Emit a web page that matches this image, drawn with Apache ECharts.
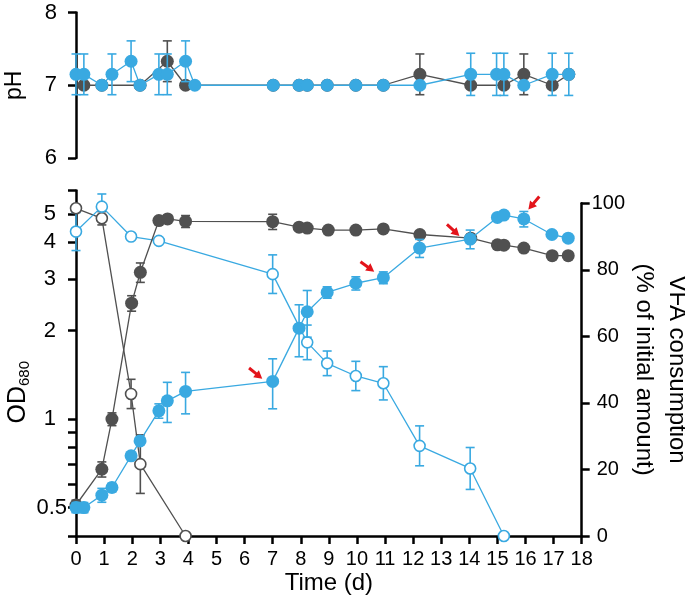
<!DOCTYPE html>
<html><head><meta charset="utf-8">
<script src="https://cdn.jsdelivr.net/npm/echarts@6/dist/echarts.min.js"></script>
<style>html,body{margin:0;padding:0;background:#fff}#c{width:685px;height:599px}</style>
</head><body><div id="c"></div>
<script>
// ---------- data ----------
const timeTicks = [0,1,2,3,4,5,6,7,8,9,10,11,12,13,14,15,16,17,18];
const phTicks = [6,7,8];
const odTickValues = [0.4,0.5,0.6,0.7,0.8,0.9,1,2,3,4,5,6];
const odLabelValues = [0.5,1,2,3,4,5];
const vfaTicks = [0,20,40,60,80,100];

// pH panel
const phBlueDays = [0,0.28,0.92,1.28,1.96,2.28,2.95,3.25,3.9,4.23,7.02,7.94,8.23,8.94,9.96,10.94,12.24,14.05,14.97,15.23,15.94,16.95,17.54];
const phBlue     = [7.15,7.15,7.0,7.15,7.33,7.0,7.15,7.15,7.33,7.0,7.0,7.0,7.0,7.0,7.0,7.0,7.0,7.15,7.15,7.15,7.0,7.15,7.15];
const phBlueSd   = [0.28,0.28,0,0.28,0.28,0,0.28,0.28,0.28,0,0,0,0,0,0,0,0,0.29,0.29,0.29,0,0.29,0.29];
const phGrayDays = [0.28,0.92,2.28,3.25,3.9,7.02,7.94,8.23,8.94,9.96,10.94,12.24,14.05,15.23,15.94,16.95,17.54];
const phGray     = [7.0,7.0,7.0,7.33,7.0,7.0,7.0,7.0,7.0,7.0,7.0,7.15,7.0,7.0,7.15,7.0,7.15];
const phGraySd   = [0,0,0,0.28,0,0,0,0,0,0,0,0.28,0,0,0.28,0,0];

// OD680 (left, log)
const odBlueDays = [0,0.28,0.92,1.28,1.96,2.28,2.95,3.25,3.9,7.0,7.94,8.23,8.94,9.96,10.94,12.23,14.03,15.0,15.23,15.94,16.94,17.52];
const odBlue     = [0.50,0.50,0.551,0.585,0.75,0.843,1.067,1.154,1.242,1.344,2.04,2.32,2.70,2.90,3.03,3.82,4.10,4.86,4.95,4.80,4.25,4.13];
const odBlueSd   = [0.02,0.02,0.03,0.02,0.02,0.02,0.06,0.18,0.20,0.26,0.41,0.42,0.12,0.15,0.14,0.27,0.30,0.05,0.05,0.29,0.05,0.05];
const odGrayDays = [0,0.92,1.28,1.98,2.29,2.95,3.26,3.9,7.0,7.94,8.23,8.98,9.96,10.94,12.24,14.05,15.0,15.23,15.94,16.95,17.52];
const odGray     = [0.51,0.675,1.0,2.48,3.16,4.74,4.80,4.71,4.70,4.50,4.47,4.40,4.40,4.44,4.25,4.13,3.92,3.91,3.82,3.60,3.60];
const odGraySd   = [0.02,0.04,0.05,0.15,0.24,0.05,0.05,0.22,0.28,0.05,0.05,0.05,0.05,0.08,0.10,0.05,0.05,0.05,0.05,0.05,0.05];

// VFA consumption (right)
const vfaGrayDays = [0,0.92,1.96,2.29,3.9];
const vfaGray     = [98.5,95.5,42.7,21.6,0];
const vfaGraySd   = [0,2,4.4,8.8,0];
const vfaBlueDays = [0,0.92,1.96,2.95,7.0,8.23,8.94,9.96,10.94,12.23,14.03,15.23];
const vfaBlue     = [91.5,99.0,90.0,88.7,78.7,58.2,51.9,48.1,45.9,27.1,20.3,0];
const vfaBlueSd   = [5.7,3.8,0,0,5.8,5.2,3.7,4.4,5,6,6.3,0];

// red arrows point at these days of the blue OD series
const arrowDays = [7.0,10.94,14.03,15.94];

// ---------- chart ----------
const BLUE = '#39A9E1', GRAY = '#505050', RED = '#E3141B';
const FONT = '"Liberation Sans", Arial, sans-serif';
const L = v => Math.log10(v);
const pts = (d, v, f) => d.map((x, i) => [x, f ? f(v[i]) : v[i]]);
function errPts(d, v, sd, f) {
  const out = [];
  d.forEach((x, i) => { if (sd[i] > 0) { const lo = v[i] - sd[i], hi = v[i] + sd[i]; out.push([x, f ? f(lo) : lo, f ? f(hi) : hi]); } });
  return out;
}
function errSeries(idx, data, color, z) {
  return {
    type: 'custom', xAxisIndex: idx, yAxisIndex: idx, data, z, silent: true, animation: false,
    encode: { x: 0, y: [1, 2] },
    renderItem: (p, api) => {
      const x = api.value(0);
      const a = api.coord([x, api.value(1)]), b = api.coord([x, api.value(2)]);
      const w = 4.5, st = { stroke: color, lineWidth: 1.6 };
      return { type: 'group', children: [
        { type: 'line', shape: { x1: a[0], y1: a[1], x2: b[0], y2: b[1] }, style: st },
        { type: 'line', shape: { x1: a[0] - w, y1: a[1], x2: a[0] + w, y2: a[1] }, style: st },
        { type: 'line', shape: { x1: b[0] - w, y1: b[1], x2: b[0] + w, y2: b[1] }, style: st }
      ]};
    }
  };
}
function lineSeries(idx, data, color, filled, z, extra) {
  return Object.assign({
    type: 'line', xAxisIndex: idx, yAxisIndex: idx, data, z, silent: true, animation: false, clip: false,
    symbol: 'circle', symbolSize: filled ? 13 : 11, showSymbol: true,
    lineStyle: { color, width: 1.3 },
    itemStyle: filled ? { color } : { color: '#fff', borderColor: color, borderWidth: 1.6 }
  }, extra || {});
}

const axLine = { show: true, onZero: false, lineStyle: { color: '#000', width: 2.5 } };
const axTick = { show: true, length: 8, lineStyle: { color: '#000', width: 2.5 } };
const hiddenX = i => ({ gridIndex: i, type: 'value', min: 0, max: 18, show: false });

const arrowPath = 'path://M4.5,0 L9,8 L6,8 L6,17 L3,17 L3,8 L0,8 Z';
const arrowCfg = [
  { rot: -129, off: [-17, -8] },
  { rot: -126, off: [-16, -11] },
  { rot: -133, off: [-17, -9] },
  { rot: 140, off: [10, -16] }
];
const arrowMarks = arrowDays.map((d, i) => {
  const k = odBlueDays.indexOf(d);
  return { coord: [d, L(odBlue[k])], symbol: arrowPath, symbolSize: [9, 17],
           symbolRotate: arrowCfg[i].rot, symbolOffset: arrowCfg[i].off,
           itemStyle: { color: RED }, label: { show: false } };
});

const gridBase = { left: 76, right: 103.3, containLabel: false, outerBoundsMode: 'none' };
const option = {
  backgroundColor: '#fff',
  animation: false,
  textStyle: { fontFamily: FONT },
  grid: [
    Object.assign({ top: 12.5, height: 145.5 }, gridBase),
    Object.assign({ top: 190.5, bottom: 63 }, gridBase),
    Object.assign({ top: 203.3, bottom: 63 }, gridBase)
  ],
  xAxis: [
    hiddenX(0),
    { gridIndex: 1, type: 'value', min: 0, max: 18, interval: 1,
      axisLine: axLine, axisTick: axTick, splitLine: { show: false },
      axisLabel: { customValues: timeTicks, fontSize: 20, color: '#000', margin: 13, fontFamily: FONT },
      name: 'Time (d)', nameLocation: 'middle', nameGap: 35, nameMoveOverlap: false,
      nameTextStyle: { fontSize: 24, color: '#000', fontFamily: FONT } },
    hiddenX(2)
  ],
  yAxis: [
    { gridIndex: 0, type: 'value', min: 6, max: 8, interval: 1, position: 'left',
      axisLine: axLine, axisTick: Object.assign({ customValues: phTicks }, axTick), splitLine: { show: false },
      axisLabel: { customValues: phTicks, fontSize: 22, color: '#000', margin: 19, fontFamily: FONT },
      name: 'pH', nameLocation: 'middle', nameRotate: 90, nameGap: 50, nameMoveOverlap: false,
      nameTextStyle: { fontSize: 23, color: '#000', fontFamily: FONT } },
    { gridIndex: 1, type: 'value', min: L(0.4), max: L(6), position: 'left',
      axisLine: axLine, axisTick: Object.assign({ customValues: odTickValues.map(L) }, axTick), splitLine: { show: false },
      axisLabel: { customValues: odLabelValues.map(L), margin: 9, color: '#000',
        formatter: v => { const r = Math.pow(10, v); return r < 0.95 ? '{n|' + r.toFixed(1) + '}' : '{n|' + Math.round(r) + '}{s|\u00a0}'; },
        rich: { n: { fontSize: 22, color: '#000', fontFamily: FONT }, s: { width: 11, fontSize: 22 } } },
      name: '{a|OD}{b|680}{s|\u00a0}', nameLocation: 'middle', nameRotate: 90, nameGap: 44, nameMoveOverlap: false,
      nameTextStyle: { color: '#000', rich: {
        a: { fontSize: 25, color: '#000', fontFamily: FONT, lineHeight: 28 },
        b: { fontSize: 15, color: '#000', fontFamily: FONT, verticalAlign: 'bottom', lineHeight: 28, padding: [6, 0, 0, 0] },
        s: { width: 58, fontSize: 15 } } } },
    { gridIndex: 2, type: 'value', min: 0, max: 100, interval: 20, position: 'right',
      axisLine: axLine, axisTick: Object.assign({ customValues: vfaTicks }, axTick), splitLine: { show: false },
      axisLabel: { customValues: vfaTicks, margin: 10, color: '#000',
        formatter: v => v === 100 ? '{n|100}' : '{s|\u00a0}{n|' + v + '}',
        rich: { n: { fontSize: 20, color: '#000', fontFamily: FONT }, s: { width: 5, fontSize: 20 } } },
      name: 'VFA consumption\n(% of initial amount)', nameLocation: 'middle', nameRotate: -90, nameGap: 45, nameMoveOverlap: false,
      nameTextStyle: { fontSize: 24, color: '#000', fontFamily: FONT, lineHeight: 33 } }
  ],
  series: [
    // pH
    errSeries(0, errPts(phGrayDays, phGray, phGraySd), GRAY, 3),
    lineSeries(0, pts(phGrayDays, phGray), GRAY, true, 3),
    errSeries(0, errPts(phBlueDays, phBlue, phBlueSd), BLUE, 4),
    lineSeries(0, pts(phBlueDays, phBlue), BLUE, true, 4),
    // VFA
    errSeries(2, errPts(vfaGrayDays, vfaGray, vfaGraySd), GRAY, 3),
    lineSeries(2, pts(vfaGrayDays, vfaGray), GRAY, false, 3),
    errSeries(2, errPts(vfaBlueDays, vfaBlue, vfaBlueSd), BLUE, 3),
    lineSeries(2, pts(vfaBlueDays, vfaBlue), BLUE, false, 3),
    // OD
    errSeries(1, errPts(odGrayDays, odGray, odGraySd, L), GRAY, 4),
    lineSeries(1, pts(odGrayDays, odGray, L), GRAY, true, 4),
    errSeries(1, errPts(odBlueDays, odBlue, odBlueSd, L), BLUE, 5),
    lineSeries(1, pts(odBlueDays, odBlue, L), BLUE, true, 5, {
      markPoint: { silent: true, animation: false, data: arrowMarks }
    })
  ]
};
const chart = echarts.init(document.getElementById('c'), null, { renderer: 'canvas' });
chart.setOption(option);
</script>
</body></html>
